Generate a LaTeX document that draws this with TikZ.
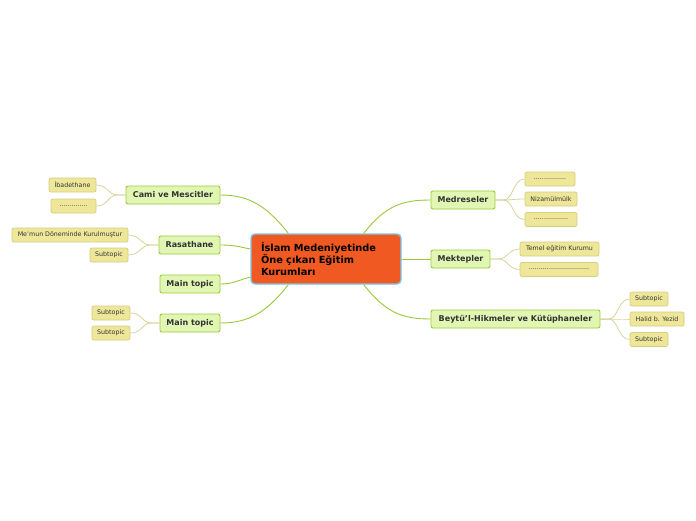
\documentclass[tikz,border=0pt]{standalone}
\usepackage{fontspec}
\setmainfont{DejaVu Sans}
\usetikzlibrary{calc}
\definecolor{mtfill}{HTML}{E2F6B4}
\definecolor{mtdraw}{HTML}{9CCB3C}
\definecolor{stfill}{HTML}{EEE79A}
\definecolor{stdraw}{HTML}{D6CF7E}
\definecolor{cfill}{HTML}{F05A22}
\definecolor{cdraw}{HTML}{78C8EE}
\definecolor{mline}{HTML}{9BC93A}
\definecolor{sline}{HTML}{D9D49C}
\definecolor{txt}{HTML}{333333}
\tikzset{
  mtopic/.style={draw=mtdraw, fill=mtfill, line width=0.9pt, rounded corners=2pt,
    minimum height=18pt, inner sep=0pt, font=\bfseries\fontsize{8}{9}\selectfont, text=txt},
  stopic/.style={draw=stdraw, fill=stfill, line width=0.7pt, rounded corners=2pt,
    minimum height=14pt, inner sep=0pt, font=\fontsize{6.3}{7}\selectfont, text=txt},
  central/.style={draw=cdraw, fill=cfill, line width=1.4pt, rounded corners=4pt,
    minimum width=150pt, minimum height=50pt, inner sep=0pt, text width=130pt, align=left,
    font=\bfseries\fontsize{9.8}{12}\selectfont, text=black},
  mainline/.style={draw=mline, line width=0.9pt},
  subline/.style={draw=sline, line width=0.8pt},
}
\begin{document}
\begin{tikzpicture}[x=1pt,y=-1pt]
\path[use as bounding box, fill=white] (0,0) rectangle (696,520);

% central
\node[central] (c) at (326,259) {İslam Medeniyetinde\\Öne çıkan Eğitim\\Kurumları};

% main topics left
\node[mtopic, minimum width=94pt] (cami) at (173,195) {Cami ve Mescitler};
\node[mtopic, minimum width=61pt] (ras) at (189.5,245) {Rasathane};
\node[mtopic, minimum width=60pt] (mt1) at (190,284) {Main topic};
\node[mtopic, minimum width=60pt] (mt2) at (190,323) {Main topic};

% main topics right
\node[mtopic, minimum width=64pt] (med) at (463,200) {Medreseler};
\node[mtopic, minimum width=59pt] (mek) at (460.5,259) {Mektepler};
\node[mtopic, minimum width=169pt] (bey) at (515.5,319) {Beytü'l-Hikmeler ve Kütüphaneler};

% subtopics left
\node[stopic, minimum width=47pt] (ibad) at (72.5,185) {İbadethane};
\node[stopic, minimum width=45pt] (cdots) at (73.5,206) {..............};
\node[stopic, minimum width=116pt] (memun) at (70,235) {Me'mun Döneminde Kurulmuştur};
\node[stopic, minimum width=38pt] (rsub) at (109,255) {Subtopic};
\node[stopic, minimum width=38pt] (msa) at (111,313) {Subtopic};
\node[stopic, minimum width=38pt] (msb) at (111,333) {Subtopic};

% subtopics right
\node[stopic, minimum width=50pt] (md1) at (550,179) {................};
\node[stopic, minimum width=52pt] (niz) at (551,199) {Nizamülmülk};
\node[stopic, minimum width=52pt] (md2) at (551,219.5) {.................};
\node[stopic, minimum width=79pt] (tem) at (559.5,249) {Temel eğitim Kurumu};
\node[stopic, minimum width=78pt] (mkd) at (559,269.5) {..............................};
\node[stopic, minimum width=38pt] (bs1) at (649,299) {Subtopic};
\node[stopic, minimum width=54pt] (hal) at (657,319) {Halid b. Yezid};
\node[stopic, minimum width=38pt] (bs2) at (649,339.5) {Subtopic};

% central connectors
\draw[mainline] ([xshift=38pt]c.north west) .. controls +(-22,-28) and +(28,0) .. (cami.east);
\draw[mainline] ([yshift=10pt]c.west) .. controls +(-14,-3) and +(12,0) .. (ras.east);
\draw[mainline] ([yshift=-18pt]c.west) .. controls +(-14,4) and +(12,0) .. (mt1.east);
\draw[mainline] ([xshift=38pt]c.south west) .. controls +(-22,28) and +(28,0) .. (mt2.east);
\draw[mainline] ([xshift=-38pt]c.north east) .. controls +(22,-28) and +(-28,0) .. (med.west);
\draw[mainline] (c.east) -- (mek.west);
\draw[mainline] ([xshift=-38pt]c.south east) .. controls +(22,28) and +(-28,0) .. (bey.west);

% sub connectors left
\foreach \p/\k in {cami/ibad, cami/cdots, ras/memun, ras/rsub, mt2/msa, mt2/msb}{
  \draw[subline] (\p.west) -- ++(-8,0) .. controls +(-10,0) and +(12,0) .. (\k.east);
}
% sub connectors right
\foreach \p/\k in {med/md1, med/niz, med/md2, mek/tem, mek/mkd, bey/bs1, bey/hal, bey/bs2}{
  \draw[subline] (\p.east) -- ++(8,0) .. controls +(10,0) and +(-12,0) .. (\k.west);
}
\end{tikzpicture}
\end{document}
